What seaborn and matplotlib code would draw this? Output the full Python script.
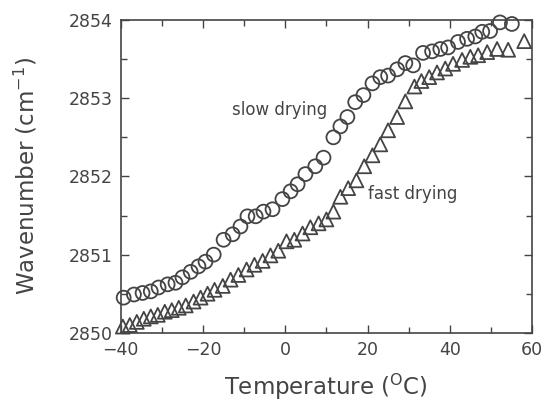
import matplotlib
matplotlib.use('Agg')
import matplotlib.pyplot as plt
import seaborn as sns
import pandas as pd
from matplotlib.ticker import MultipleLocator

# slow drying (circles)
slow_temp = [-39.3, -36.8, -34.7, -32.7, -30.8, -28.6, -26.7, -25.0, -23.0, -21.1,
             -19.4, -17.4, -15.0, -12.8, -10.9, -9.2, -7.2, -5.3, -3.1, -0.7,
             1.3, 3.0, 4.9, 7.3, 9.3, 11.7, 13.4, 15.1, 17.0, 19.0,
             21.2, 23.1, 25.0, 27.2, 29.2, 31.1, 33.5, 35.7, 37.7, 39.6,
             42.0, 44.2, 46.2, 47.9, 49.8, 52.2, 55.1]
slow_wn = [2850.45, 2850.49, 2850.51, 2850.53, 2850.58, 2850.62, 2850.64, 2850.71, 2850.78, 2850.85,
           2850.91, 2851.00, 2851.19, 2851.26, 2851.36, 2851.49, 2851.49, 2851.55, 2851.58, 2851.71,
           2851.81, 2851.90, 2852.03, 2852.13, 2852.24, 2852.50, 2852.64, 2852.76, 2852.95, 2853.04,
           2853.19, 2853.27, 2853.29, 2853.37, 2853.45, 2853.42, 2853.58, 2853.60, 2853.63, 2853.65,
           2853.72, 2853.76, 2853.79, 2853.85, 2853.86, 2853.97, 2853.95]

# fast drying (triangles)
fast_temp = [-39.5, -37.8, -36.1, -34.4, -32.7, -31.0, -29.3, -27.6, -25.9, -24.2,
             -22.3, -20.6, -18.9, -17.2, -15.2, -13.3, -11.4, -9.4, -7.5, -5.5,
             -3.6, -1.7, 0.3, 2.2, 4.2, 6.1, 8.1, 10.0, 11.7, 13.4,
             15.3, 17.3, 19.2, 21.2, 23.1, 25.0, 27.2, 29.2, 31.4, 33.1,
             35.0, 36.9, 38.9, 40.8, 43.0, 45.0, 46.9, 49.1, 51.5, 54.2, 58.1]
fast_wn = [2850.08, 2850.10, 2850.14, 2850.18, 2850.21, 2850.23, 2850.27, 2850.29, 2850.32, 2850.35,
           2850.40, 2850.45, 2850.50, 2850.55, 2850.60, 2850.68, 2850.74, 2850.81, 2850.87, 2850.92,
           2850.99, 2851.05, 2851.17, 2851.19, 2851.27, 2851.35, 2851.40, 2851.45, 2851.55, 2851.74,
           2851.85, 2851.95, 2852.13, 2852.27, 2852.41, 2852.59, 2852.76, 2852.96, 2853.15, 2853.22,
           2853.27, 2853.33, 2853.38, 2853.44, 2853.49, 2853.53, 2853.55, 2853.59, 2853.63, 2853.62, 2853.73]

slow = pd.DataFrame({'T': slow_temp, 'W': slow_wn})
fast = pd.DataFrame({'T': fast_temp, 'W': fast_wn})

sns.set_style('ticks')
plt.rcParams['font.family'] = ['DejaVu Sans']
ink = '#444444'

fig = plt.figure(figsize=(5.44, 4.01), dpi=100)
ax = fig.add_axes([0.222, 0.170, 0.756, 0.780])

sns.scatterplot(data=slow, x='T', y='W', ax=ax, marker='o', s=100,
                facecolor='none', edgecolor=ink, linewidth=1.3, clip_on=False)
sns.scatterplot(data=fast, x='T', y='W', ax=ax, marker='^', s=100,
                facecolor='none', edgecolor=ink, linewidth=1.3, clip_on=False)

ax.set_xlim(-40, 60)
ax.set_ylim(2850, 2854)
ax.xaxis.set_major_locator(MultipleLocator(20))
ax.xaxis.set_minor_locator(MultipleLocator(10))
ax.yaxis.set_major_locator(MultipleLocator(1))
ax.yaxis.set_minor_locator(MultipleLocator(0.5))
ax.tick_params(which='both', direction='in', top=True, right=True, color=ink, width=1.0)
ax.tick_params(which='major', length=6, labelsize=12.5, labelcolor=ink, pad=6)
ax.tick_params(which='minor', length=4)
for sp in ax.spines.values():
    sp.set_color(ink)
    sp.set_linewidth(1.2)

ax.set_xlabel('Temperature ($^{\\rm O}$C)', fontsize=16.5, color=ink, labelpad=9)
ax.set_ylabel('Wavenumber (cm$^{-1}$)', fontsize=16.5, color=ink, labelpad=21)

ax.text(-13, 2852.85, 'slow drying', fontsize=12, color=ink, va='center')
ax.text(20, 2851.78, 'fast drying', fontsize=12, color=ink, va='center')

fig.savefig('out.png', dpi=100)
